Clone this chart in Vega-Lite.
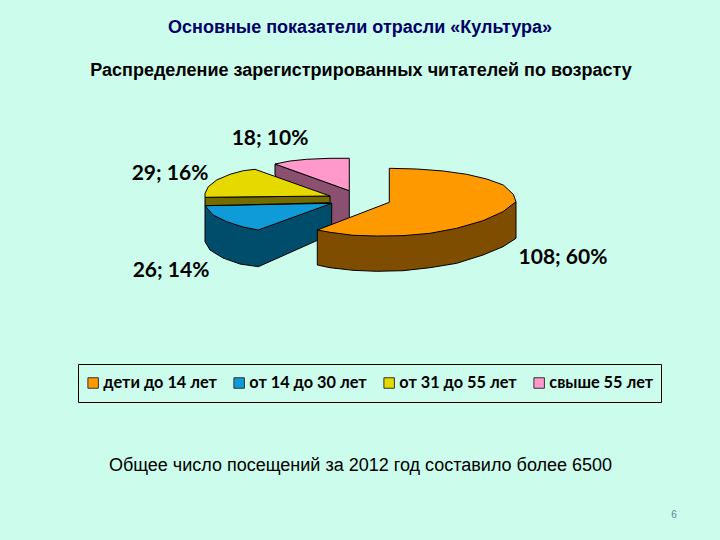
{
  "$schema": "https://vega.github.io/schema/vega-lite/v6.json",
  "autosize": {"type": "fit", "contains": "padding"},
  "width": 720,
  "height": 540,
  "padding": 0,
  "background": "#ccfcec",
  "config": {"view": {"stroke": null}},
  "layer": [
    {
      "data": {"values": [
        {"part": "бок свыше 55 лет", "i": 1, "x": 275, "y": 164},
        {"part": "бок свыше 55 лет", "i": 2, "x": 349.3, "y": 190.7},
        {"part": "бок свыше 55 лет", "i": 3, "x": 349.3, "y": 220},
        {"part": "бок свыше 55 лет", "i": 4, "x": 320, "y": 232},
        {"part": "бок свыше 55 лет", "i": 5, "x": 275, "y": 175},
        {"part": "бок свыше 55 лет", "i": 6, "x": 275, "y": 164},
        {"part": "свыше 55 лет", "i": 1, "x": 275, "y": 164},
        {"part": "свыше 55 лет", "i": 2, "x": 290, "y": 161},
        {"part": "свыше 55 лет", "i": 3, "x": 306.7, "y": 159.3},
        {"part": "свыше 55 лет", "i": 4, "x": 330, "y": 158.3},
        {"part": "свыше 55 лет", "i": 5, "x": 349.3, "y": 158.3},
        {"part": "свыше 55 лет", "i": 6, "x": 349.3, "y": 190.7},
        {"part": "свыше 55 лет", "i": 7, "x": 275, "y": 164},
        {"part": "бок от 14 до 30 лет", "i": 1, "x": 205, "y": 205.7},
        {"part": "бок от 14 до 30 лет", "i": 2, "x": 331.7, "y": 203.3},
        {"part": "бок от 14 до 30 лет", "i": 3, "x": 331.7, "y": 234},
        {"part": "бок от 14 до 30 лет", "i": 4, "x": 258.3, "y": 266.7},
        {"part": "бок от 14 до 30 лет", "i": 5, "x": 240, "y": 264},
        {"part": "бок от 14 до 30 лет", "i": 6, "x": 223, "y": 258},
        {"part": "бок от 14 до 30 лет", "i": 7, "x": 210, "y": 250},
        {"part": "бок от 14 до 30 лет", "i": 8, "x": 205, "y": 241.7},
        {"part": "бок от 14 до 30 лет", "i": 9, "x": 205, "y": 205.7},
        {"part": "от 14 до 30 лет", "i": 1, "x": 331.7, "y": 203.3},
        {"part": "от 14 до 30 лет", "i": 2, "x": 205, "y": 205.7},
        {"part": "от 14 до 30 лет", "i": 3, "x": 213, "y": 215},
        {"part": "от 14 до 30 лет", "i": 4, "x": 226.7, "y": 221.7},
        {"part": "от 14 до 30 лет", "i": 5, "x": 243, "y": 227},
        {"part": "от 14 до 30 лет", "i": 6, "x": 258.3, "y": 230},
        {"part": "от 14 до 30 лет", "i": 7, "x": 331.7, "y": 203.3},
        {"part": "бок от 31 до 55 лет", "i": 1, "x": 205, "y": 197.3},
        {"part": "бок от 31 до 55 лет", "i": 2, "x": 330, "y": 196},
        {"part": "бок от 31 до 55 лет", "i": 3, "x": 330, "y": 202.7},
        {"part": "бок от 31 до 55 лет", "i": 4, "x": 205, "y": 205.7},
        {"part": "бок от 31 до 55 лет", "i": 5, "x": 205, "y": 197.3},
        {"part": "от 31 до 55 лет", "i": 1, "x": 205, "y": 197.3},
        {"part": "от 31 до 55 лет", "i": 2, "x": 205, "y": 193.3},
        {"part": "от 31 до 55 лет", "i": 3, "x": 208.3, "y": 186.7},
        {"part": "от 31 до 55 лет", "i": 4, "x": 216.7, "y": 180},
        {"part": "от 31 до 55 лет", "i": 5, "x": 230, "y": 174.3},
        {"part": "от 31 до 55 лет", "i": 6, "x": 243.3, "y": 170.7},
        {"part": "от 31 до 55 лет", "i": 7, "x": 255, "y": 169.3},
        {"part": "от 31 до 55 лет", "i": 8, "x": 330, "y": 196},
        {"part": "от 31 до 55 лет", "i": 9, "x": 205, "y": 197.3},
        {"part": "бок дети до 14 лет", "i": 1, "x": 317.3, "y": 230},
        {"part": "бок дети до 14 лет", "i": 2, "x": 317.3, "y": 265},
        {"part": "бок дети до 14 лет", "i": 3, "x": 330, "y": 267.7},
        {"part": "бок дети до 14 лет", "i": 4, "x": 353, "y": 270.3},
        {"part": "бок дети до 14 лет", "i": 5, "x": 376.7, "y": 271.3},
        {"part": "бок дети до 14 лет", "i": 6, "x": 403, "y": 270.7},
        {"part": "бок дети до 14 лет", "i": 7, "x": 430, "y": 267.7},
        {"part": "бок дети до 14 лет", "i": 8, "x": 456.7, "y": 263.3},
        {"part": "бок дети до 14 лет", "i": 9, "x": 483, "y": 255},
        {"part": "бок дети до 14 лет", "i": 10, "x": 503, "y": 246.7},
        {"part": "бок дети до 14 лет", "i": 11, "x": 516, "y": 238.3},
        {"part": "бок дети до 14 лет", "i": 12, "x": 516, "y": 201.7},
        {"part": "бок дети до 14 лет", "i": 13, "x": 403, "y": 235.7},
        {"part": "бок дети до 14 лет", "i": 14, "x": 317.3, "y": 230},
        {"part": "дети до 14 лет", "i": 1, "x": 389.3, "y": 168.3},
        {"part": "дети до 14 лет", "i": 2, "x": 389.3, "y": 202.3},
        {"part": "дети до 14 лет", "i": 3, "x": 317.3, "y": 230},
        {"part": "дети до 14 лет", "i": 4, "x": 330, "y": 232.3},
        {"part": "дети до 14 лет", "i": 5, "x": 353, "y": 235.3},
        {"part": "дети до 14 лет", "i": 6, "x": 376.7, "y": 236},
        {"part": "дети до 14 лет", "i": 7, "x": 403, "y": 235.7},
        {"part": "дети до 14 лет", "i": 8, "x": 430, "y": 233.3},
        {"part": "дети до 14 лет", "i": 9, "x": 456.7, "y": 228.3},
        {"part": "дети до 14 лет", "i": 10, "x": 483, "y": 220.7},
        {"part": "дети до 14 лет", "i": 11, "x": 503, "y": 211.7},
        {"part": "дети до 14 лет", "i": 12, "x": 516, "y": 201.7},
        {"part": "дети до 14 лет", "i": 13, "x": 513.3, "y": 194.3},
        {"part": "дети до 14 лет", "i": 14, "x": 503.3, "y": 185},
        {"part": "дети до 14 лет", "i": 15, "x": 486.7, "y": 179},
        {"part": "дети до 14 лет", "i": 16, "x": 466.7, "y": 174.3},
        {"part": "дети до 14 лет", "i": 17, "x": 443.3, "y": 171},
        {"part": "дети до 14 лет", "i": 18, "x": 416.7, "y": 169},
        {"part": "дети до 14 лет", "i": 19, "x": 389.3, "y": 168.3}
      ]},
      "mark": {"type": "line", "stroke": "#000000", "strokeWidth": 1, "interpolate": "linear"},
      "encoding": {
        "x": {"field": "x", "type": "quantitative", "axis": null, "scale": {"domain": [0, 720], "nice": false, "zero": false}},
        "y": {"field": "y", "type": "quantitative", "axis": null, "scale": {"domain": [540, 0], "nice": false, "zero": false}},
        "detail": {"field": "part"},
        "order": {"field": "i", "type": "quantitative"},
        "fill": {
          "field": "part",
          "type": "nominal",
          "scale": {
            "domain": ["дети до 14 лет", "от 14 до 30 лет", "от 31 до 55 лет", "свыше 55 лет", "бок дети до 14 лет", "бок от 14 до 30 лет", "бок от 31 до 55 лет", "бок свыше 55 лет"],
            "range": ["#ff9900", "#0f9bd7", "#e6d900", "#ff99cc", "#7f4d00", "#004d6b", "#736d00", "#8b5070"]
          },
          "legend": {
            "values": ["дети до 14 лет", "от 14 до 30 лет", "от 31 до 55 лет", "свыше 55 лет"],
            "title": null,
            "orient": "none",
            "legendX": 78,
            "legendY": 364,
            "direction": "horizontal",
            "columns": 4,
            "gridAlign": "none",
            "columnPadding": 14,
            "padding": 7,
            "clipHeight": 24,
            "strokeColor": "#000000",
            "symbolType": "square",
            "symbolSize": 110,
            "symbolStrokeColor": "#333333",
            "symbolStrokeWidth": 1,
            "labelFont": "Lato",
            "labelFontWeight": "bold",
            "labelFontSize": 16.3,
            "labelOffset": 2,
            "labelColor": "#000000",
            "labelLimit": 200
          }
        }
      }
    },
    {
      "data": {"values": [
        {"label": "18; 10%", "value": 18, "share": 10, "x": 270, "y": 139},
        {"label": "29; 16%", "value": 29, "share": 16, "x": 170, "y": 174},
        {"label": "26; 14%", "value": 26, "share": 14, "x": 171, "y": 271},
        {"label": "108; 60%", "value": 108, "share": 60, "x": 563, "y": 258}
      ]},
      "mark": {"type": "text", "font": "Lato", "fontSize": 21, "fontWeight": "bold", "color": "#000000", "align": "center", "baseline": "middle"},
      "encoding": {
        "x": {"field": "x", "type": "quantitative", "axis": null},
        "y": {"field": "y", "type": "quantitative", "axis": null},
        "text": {"field": "label"}
      }
    },
    {
      "data": {"values": [{"text": "Основные показатели отрасли «Культура»", "x": 360, "y": 28}]},
      "mark": {"type": "text", "font": "Liberation Sans", "fontSize": 18, "fontWeight": "bold", "color": "#000066", "align": "center", "baseline": "middle"},
      "encoding": {
        "x": {"field": "x", "type": "quantitative", "axis": null},
        "y": {"field": "y", "type": "quantitative", "axis": null},
        "text": {"field": "text"}
      }
    },
    {
      "data": {"values": [{"text": "Распределение зарегистрированных читателей по возрасту", "x": 361, "y": 70.5}]},
      "mark": {"type": "text", "font": "Liberation Sans", "fontSize": 18, "fontWeight": "bold", "color": "#000000", "align": "center", "baseline": "middle"},
      "encoding": {
        "x": {"field": "x", "type": "quantitative", "axis": null},
        "y": {"field": "y", "type": "quantitative", "axis": null},
        "text": {"field": "text"}
      }
    },
    {
      "data": {"values": [{"text": "Общее число посещений за 2012 год составило более 6500", "x": 360.5, "y": 466}]},
      "mark": {"type": "text", "font": "Liberation Sans", "fontSize": 18, "color": "#000000", "align": "center", "baseline": "middle"},
      "encoding": {
        "x": {"field": "x", "type": "quantitative", "axis": null},
        "y": {"field": "y", "type": "quantitative", "axis": null},
        "text": {"field": "text"}
      }
    },
    {
      "data": {"values": [{"text": "6", "x": 674, "y": 515}]},
      "mark": {"type": "text", "font": "Liberation Sans", "fontSize": 10, "color": "#5f8a84", "align": "center", "baseline": "middle"},
      "encoding": {
        "x": {"field": "x", "type": "quantitative", "axis": null},
        "y": {"field": "y", "type": "quantitative", "axis": null},
        "text": {"field": "text"}
      }
    }
  ]
}
